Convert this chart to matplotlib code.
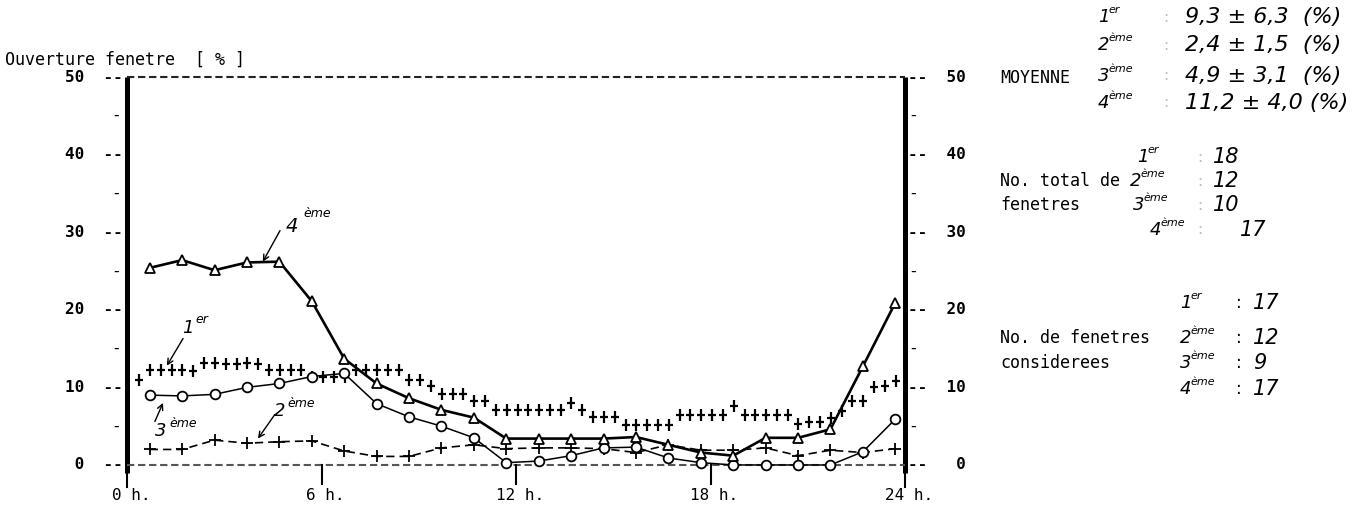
import numpy as np
import matplotlib.pyplot as plt
from matplotlib.path import Path

# hourly points (x in hours) for 2eme, 3eme, 4eme
hours = [0.7, 1.7, 2.7, 3.7, 4.7, 5.7, 6.7, 7.7, 8.7, 9.7, 10.7, 11.7,
         12.7, 13.7, 14.7, 15.7, 16.7, 17.7, 18.7, 19.7, 20.7, 21.7, 22.7, 23.7]

etage4 = [25.4, 26.4, 25.1, 26.1, 26.2, 21.1, 13.7, 10.5, 8.6, 7.1, 6.1, 3.4,
          3.4, 3.4, 3.4, 3.6, 2.6, 1.6, 1.2, 3.5, 3.5, 4.6, 12.7, 20.9]
etage3 = [9.0, 8.9, 9.1, 10.0, 10.5, 11.4, 11.8, 7.9, 6.2, 5.0, 3.5, 0.3,
          0.5, 1.2, 2.2, 2.3, 0.9, 0.3, 0.0, 0.0, 0.0, 0.0, 1.7, 5.9]
etage2 = [2.0, 2.0, 3.2, 2.8, 3.0, 3.1, 1.8, 1.1, 1.1, 2.2, 2.6, 2.1,
          2.2, 2.2, 2.1, 1.6, 2.6, 1.9, 1.9, 2.2, 1.2, 1.9, 1.6, 2.1]

# 1er etage : one point every 20 min
hours_1er = [round(0.38 + k / 3, 2) for k in range(71)]
etage1 = [11.0,
          12.2, 12.2, 12.2, 12.2, 12.1,
          13.1, 13.1, 13.0, 13.0, 13.1, 13.0,
          12.2, 12.2, 12.2, 12.2,
          11.3, 11.3, 11.3, 11.3,
          12.2, 12.2, 12.2, 12.2, 12.2,
          11.0, 11.0, 10.2,
          9.1, 9.1, 9.1,
          8.2, 8.2,
          7.1, 7.1, 7.1, 7.1, 7.1, 7.1, 7.1,
          8.0, 7.1,
          6.2, 6.2, 6.2,
          5.2, 5.2, 5.2, 5.2, 5.2,
          6.5, 6.5, 6.5, 6.5, 6.5,
          7.6,
          6.5, 6.5, 6.5, 6.5, 6.5,
          5.3, 5.6, 5.6, 6.0, 7.0,
          8.2, 8.2, 10.0, 10.2, 10.8]

yticks_major = [0, 10, 20, 30, 40, 50]
yticks_minor = [5, 15, 25, 35, 45]
xticks = [0, 6, 12, 18, 24]

moy_labels = [('1', 'er'), ('2', 'ème'), ('3', 'ème'), ('4', 'ème')]
moy_values = ['9,3 ± 6,3  (%)', '2,4 ± 1,5  (%)', '4,9 ± 3,1  (%)', '11,2 ± 4,0 (%)']
total_values = ['18', '12', '10', '17']
consid_values = ['17', '12', '9', '17']

W, H = 1371, 513
MONO = 'DejaVu Sans Mono'

fig = plt.figure(figsize=(W / 100, H / 100), dpi=100)
fig.patch.set_facecolor('white')
ax = fig.add_axes([127 / W, 26 / H, 778 / W, 410 / H])
ax.set_xlim(0, 24)
ax.set_ylim(-2.84, 50)
ax.axis('off')


def ftext(x, y, s, **kw):
    kw.setdefault('va', 'center')
    fig.text(x / W, 1 - y / H, s, **kw)


def hw_ord(x, y, num, suf, size=13):
    # handwritten ordinal: number + raised suffix
    ftext(x, y, num, fontsize=size, style='italic')
    dx = 0.62 * size * 100 / 72 * len(num) * 0.95
    ftext(x + dx, y - 0.38 * size * 100 / 72, suf, fontsize=size * 0.62, style='italic')


# frame : thick verticals and dashed horizontals
for xv in [0, 24]:
    ax.plot([xv, xv], [-1.0, 50], color='black', lw=3.6, clip_on=False, solid_capstyle='butt')
    ax.plot([xv, xv], [-2.8, -1.0], color='black', lw=1.5, clip_on=False)
ax.plot([0, 24], [50, 50], color='#222222', lw=1.5, ls=(0, (3.5, 1.8)), clip_on=False)
ax.plot([0, 24], [0, 0], color='#555555', lw=1.5, ls=(0, (3.5, 1.8)), clip_on=False)
for xv in xticks[1:-1]:
    ax.plot([xv, xv], [0, -2.5], color='black', lw=1.5, clip_on=False)

# tick labels, printer style
for v in yticks_major:
    ax.text(-0.12, v, f'{v:2d}  --', ha='right', va='center', family=MONO,
            fontsize=11.5, fontweight='bold', clip_on=False)
    ax.text(24.08, v, f'--  {v:2d}', ha='left', va='center', family=MONO,
            fontsize=11.5, fontweight='bold', clip_on=False)
for v in yticks_minor:
    ax.text(-0.2, v, '-', ha='right', va='center', family=MONO, fontsize=11.5, clip_on=False)
    ax.text(24.1, v, '-', ha='left', va='center', family=MONO, fontsize=11.5, clip_on=False)
for h in xticks:
    ax.text(h + 0.12, -3.9, f'{h} h.', ha='center', va='center', family=MONO,
            fontsize=11.5, clip_on=False)

ftext(5, 60, 'Ouverture fenetre  [ % ]', family=MONO, fontsize=12)

# series
plus_tall = Path([(-0.7, 0), (0.7, 0), (0, -1), (0, 1)],
                 [Path.MOVETO, Path.LINETO, Path.MOVETO, Path.LINETO])
ax.plot(hours_1er, etage1, ls='none', marker=plus_tall, ms=8, mew=1.6, color='black')
ax.plot(hours, etage2, ls=(0, (5, 3)), lw=1.2, marker='+', ms=8, mew=1.3, color='black')
ax.plot(hours, etage3, '-', lw=1.1, marker='o', ms=7, mfc='white', mec='black', mew=1.3, color='black')
ax.plot(hours, etage4, '-', lw=1.9, marker='^', ms=7, mfc='white', mec='black', mew=1.3, color='black')

# handwritten annotations on the curves
arrow = dict(arrowstyle='->', lw=1.0, color='black', shrinkA=0, shrinkB=0)
ax.annotate('', xy=(4.19, 26.2), xytext=(4.72, 30.2), arrowprops=arrow)
ax.text(5.1, 30.7, '4', style='italic', fontsize=14, ha='center', va='center')
ax.text(5.45, 32.4, 'ème', style='italic', fontsize=9, ha='left', va='center')

ax.annotate('', xy=(1.23, 12.8), xytext=(1.73, 16.3), arrowprops=arrow)
ax.text(1.88, 17.6, '1', style='italic', fontsize=13, ha='center', va='center')
ax.text(2.1, 18.7, 'er', style='italic', fontsize=9, ha='left', va='center')

ax.annotate('', xy=(1.11, 8.0), xytext=(0.86, 5.6), arrowprops=arrow)
ax.text(1.05, 4.4, '3', style='italic', fontsize=13, ha='center', va='center')
ax.text(1.3, 5.4, 'ème', style='italic', fontsize=9, ha='left', va='center')

ax.annotate('', xy=(4.04, 3.4), xytext=(4.56, 6.5), arrowprops=arrow)
ax.text(4.7, 6.9, '2', style='italic', fontsize=13, ha='center', va='center')
ax.text(4.95, 7.9, 'ème', style='italic', fontsize=9, ha='left', va='center')

# right panel
ftext(1000, 78, 'MOYENNE', family=MONO, fontsize=12)
rows1 = [17, 45, 76, 103]
for (num, suf), val, y in zip(moy_labels, moy_values, rows1):
    hw_ord(1098, y, num, suf)
    ftext(1163, y, ':', color='#bbbbbb', fontsize=11)
    ftext(1185, y, val, style='italic', fontsize=16)

ftext(1000, 181, 'No. total de', family=MONO, fontsize=12)
ftext(1000, 205, 'fenetres', family=MONO, fontsize=12)
rows2 = [157, 181, 205, 230]
xs2 = [1137, 1130, 1133, 1150]
for (num, suf), val, y, x in zip(moy_labels, total_values, rows2, xs2):
    hw_ord(x, y, num, suf)
    ftext(1197, y, ':', color='#bbbbbb', fontsize=11)
    ftext(1213 if y < 220 else 1240, y, val, style='italic', fontsize=15)

ftext(1000, 338, 'No. de fenetres', family=MONO, fontsize=12)
ftext(1000, 363, 'considerees', family=MONO, fontsize=12)
rows3 = [303, 338, 363, 389]
for (num, suf), val, y in zip(moy_labels, consid_values, rows3):
    hw_ord(1180, y, num, suf)
    ftext(1236, y, ':', fontsize=12)
    ftext(1253, y, val, style='italic', fontsize=15)

fig.savefig('out.png', dpi=100)
